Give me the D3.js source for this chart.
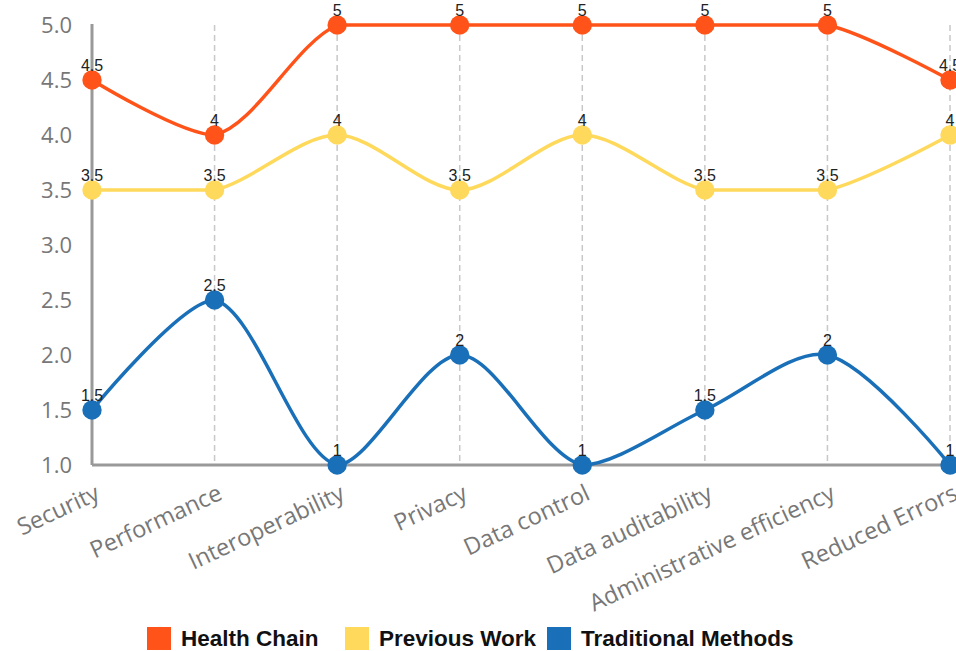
<!DOCTYPE html>
<html><head><meta charset="utf-8">
<script src="https://cdn.jsdelivr.net/npm/d3@7"></script>
<style>
html,body{margin:0;padding:0;background:#fff;}
svg{display:block;}
</style></head>
<body>
<svg id="chart" width="956" height="651"></svg>
<script>
const categories = ["Security","Performance","Interoperability","Privacy","Data control","Data auditability","Administrative efficiency","Reduced Errors"];
const healthChain = [4.5,4,5,5,5,5,5,4.5];
const previousWork = [3.5,3.5,4,3.5,4,3.5,3.5,4];
const traditional = [1.5,2.5,1,2,1,1.5,2,1];
const yTicks = [1.0,1.5,2.0,2.5,3.0,3.5,4.0,4.5,5.0];
const seriesNames = ["Health Chain","Previous Work","Traditional Methods"];
const seriesColors = ["#FF5319","#FFD95C","#1A70B8"];

const series = [
  {name: seriesNames[0], values: healthChain, color: seriesColors[0]},
  {name: seriesNames[1], values: previousWork, color: seriesColors[1]},
  {name: seriesNames[2], values: traditional, color: seriesColors[2]}
];

const svg = d3.select("#chart");
const x = d3.scalePoint().domain(categories).range([92, 950]);
const y = d3.scaleLinear().domain([1, 5]).range([465, 25]);

// vertical dashed grid lines
svg.append("g").selectAll("line").data(categories.slice(1)).join("line")
  .attr("x1", d => x(d)).attr("x2", d => x(d))
  .attr("y1", y(5)).attr("y2", y(1))
  .attr("stroke", "#c8c8c8").attr("stroke-width", 1.5)
  .attr("stroke-dasharray", "6,4");

// y axis
const yAxis = d3.axisLeft(y).tickValues(yTicks).tickFormat(d3.format(".1f")).tickSize(0).tickPadding(20);
const gy = svg.append("g").attr("transform", `translate(${x(categories[0])},0)`).call(yAxis);
gy.select(".domain").attr("stroke", "#999").attr("stroke-width", 3).attr("d", `M0,${y(5)-1}V${y(1)}`);
gy.selectAll("text").attr("fill", "#777").style("font-family", "'Open Sans', sans-serif").style("font-size", "22px");

// x axis
const xAxis = d3.axisBottom(x).tickSize(0).tickPadding(0);
const gx = svg.append("g").attr("transform", `translate(0,${y(1)})`).call(xAxis);
gx.select(".domain").attr("stroke", "#999").attr("stroke-width", 3).attr("d", `M${x(categories[0])},0H956`);
gx.selectAll("text")
  .attr("fill", "#777")
  .style("font-family", "'Open Sans', sans-serif").style("font-size", "23.5px")
  .attr("text-anchor", "end")
  .attr("dy", null).attr("y", 0)
  .attr("transform", "translate(6,28) rotate(-25)")
  .attr("dominant-baseline", "middle");

// ECharts-like smoothed line with bounding box constraint
function smoothPath(pts, smooth) {
  const p = d3.path();
  const minX = d3.min(pts, d => d[0]), maxX = d3.max(pts, d => d[0]);
  const minY = d3.min(pts, d => d[1]), maxY = d3.max(pts, d => d[1]);
  const clamp = (c) => [Math.max(minX, Math.min(maxX, c[0])), Math.max(minY, Math.min(maxY, c[1]))];
  let cp0 = pts[0].slice();
  p.moveTo(pts[0][0], pts[0][1]);
  for (let i = 1; i < pts.length; i++) {
    const cur = pts[i], prev = pts[i-1], next = pts[i+1];
    let inCp, ratio = 0.5, v = [0,0];
    if (!next) { inCp = cur.slice(); }
    else {
      v = [next[0]-prev[0], next[1]-prev[1]];
      const lp = Math.hypot(cur[0]-prev[0], cur[1]-prev[1]);
      const ln = Math.hypot(cur[0]-next[0], cur[1]-next[1]);
      ratio = ln / (ln + lp);
      inCp = [cur[0] - v[0]*smooth*(1-ratio), cur[1] - v[1]*smooth*(1-ratio)];
    }
    const a = clamp(cp0), b = clamp(inCp);
    p.bezierCurveTo(a[0], a[1], b[0], b[1], cur[0], cur[1]);
    cp0 = [cur[0] + v[0]*smooth*ratio, cur[1] + v[1]*smooth*ratio];
  }
  return p.toString();
}

const gLines = svg.append("g");
series.forEach(s => {
  const pts = s.values.map((v, i) => [x(categories[i]), y(v)]);
  gLines.append("path").attr("d", smoothPath(pts, 0.3))
    .attr("fill", "none").attr("stroke", s.color).attr("stroke-width", 3.5);
});
series.forEach(s => {
  gLines.append("g").selectAll("circle").data(s.values).join("circle")
    .attr("cx", (d, i) => x(categories[i])).attr("cy", d => y(d)).attr("r", 9.7)
    .attr("fill", s.color);
});
series.forEach(s => {
  gLines.append("g").selectAll("text").data(s.values).join("text")
    .attr("x", (d, i) => x(categories[i])).attr("y", d => y(d) - 9.5)
    .attr("text-anchor", "middle")
    .attr("fill", "#222")
    .style("font-family", "'Liberation Sans', Arial, sans-serif").style("font-size", "16px")
    .text(d => d3.format("")(d));
});

// legend
const legendX = [147, 345, 547];
const lg = svg.append("g");
series.forEach((s, i) => {
  const g = lg.append("g").attr("transform", `translate(${legendX[i]},627)`);
  g.append("rect").attr("width", 24).attr("height", 23).attr("fill", s.color);
  g.append("text").attr("x", 34).attr("y", 19)
    .attr("fill", "#111")
    .style("font-family", "'Liberation Sans', Arial, sans-serif").style("font-size", "22.5px").style("font-weight", "bold")
    .text(s.name);
});
</script>
</body></html>
